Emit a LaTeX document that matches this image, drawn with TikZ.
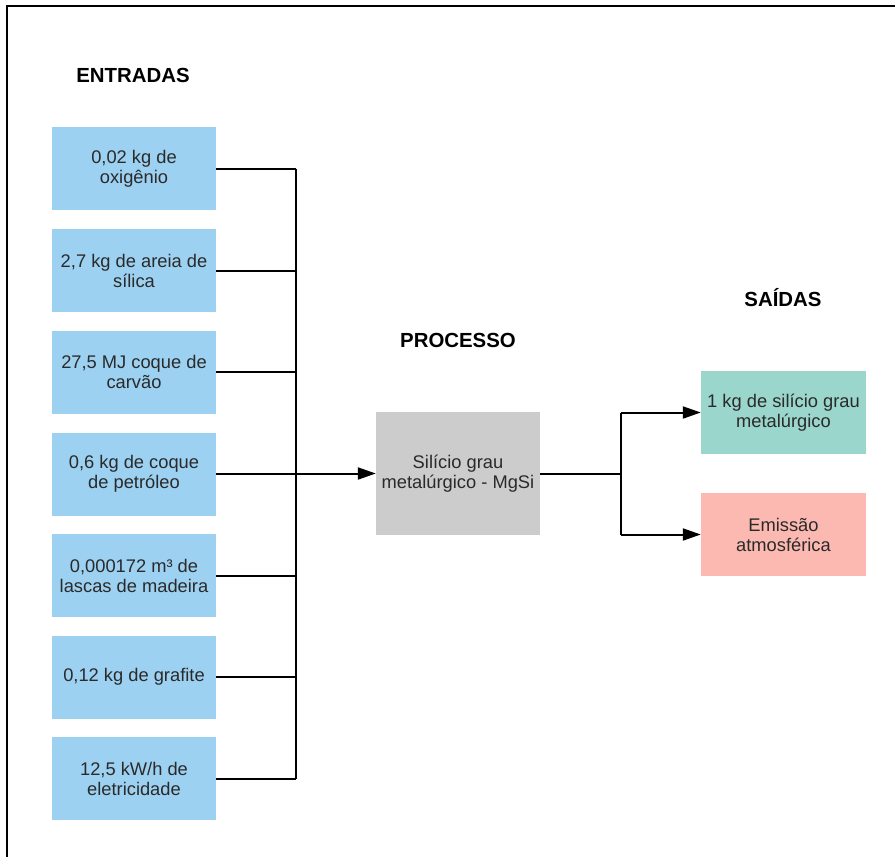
\documentclass[tikz,border=0pt]{standalone}
\usepackage{fontspec}
\setmainfont{Liberation Sans}
\usetikzlibrary{arrows.meta}
\definecolor{inblue}{HTML}{9DD1F1}
\definecolor{procgrey}{HTML}{CCCCCC}
\definecolor{outgreen}{HTML}{9AD6CB}
\definecolor{outred}{HTML}{FBB9B2}
\definecolor{txt}{HTML}{2A2A2A}
\begin{document}
\begin{tikzpicture}[x=1pt,y=-1pt]
\tikzstyle{inbox}=[fill=inblue,text=txt,minimum width=164pt,minimum height=83pt,inner sep=1pt,align=center,font=\fontsize{18.3}{20}\selectfont]
\tikzstyle{procbox}=[fill=procgrey,text=txt,minimum width=164pt,minimum height=123pt,inner sep=1pt,align=center,font=\fontsize{18.3}{20}\selectfont]
\tikzstyle{outbox}=[text=txt,minimum width=165pt,minimum height=83pt,inner sep=1pt,align=center,font=\fontsize{18.3}{20}\selectfont]
\tikzstyle{heading}=[font=\fontsize{20.4}{22}\selectfont\bfseries]
\tikzstyle{wire}=[line width=2pt]
\tikzstyle{flow}=[line width=2pt,-{Triangle[length=18pt,width=12pt]}]
\useasboundingbox (0,0) rectangle (895,857);
% frame
\draw[line width=1.6pt] (7,857) -- (7,6) -- (895,6);
% headings
\node[heading] (hin) at (133,75) {ENTRADAS};
\node[heading] (hproc) at (458,340) {PROCESSO};
\node[heading] (hout) at (783,298) {SAÍDAS};
% inputs
\node[inbox] (in1) at (134,168.5) {0,02 kg de\\oxigênio};
\node[inbox] (in2) at (134,270.5) {2,7 kg de areia de\\sílica};
\node[inbox] (in3) at (134,372) {27,5 MJ coque de\\carvão};
\node[inbox] (in4) at (134,474) {0,6 kg de coque\\de petróleo};
\node[inbox] (in5) at (134,575.5) {0,000172 m³ de\\lascas de madeira};
\node[inbox] (in6) at (134,677) {0,12 kg de grafite};
\node[inbox] (in7) at (134,778.5) {12,5 kW/h de\\eletricidade};
% process and outputs
\node[procbox] (proc) at (458,473.5) {Silício grau\\metalúrgico - MgSi};
\node[outbox,fill=outgreen] (out1) at (783.5,412.5) {1 kg de silício grau\\metalúrgico};
\node[outbox,fill=outred] (out2) at (783.5,534.5) {Emissão\\atmosférica};
\coordinate (bus) at (296,473.5);
\coordinate (split) at (621,473.5);
% connectors
\draw[wire] (in1.east) -- (in1.east -| bus);
\draw[wire] (in2.east) -- (in2.east -| bus);
\draw[wire] (in3.east) -- (in3.east -| bus);
\draw[wire] (in4.east) -- (in4.east -| bus);
\draw[wire] (in5.east) -- (in5.east -| bus);
\draw[wire] (in6.east) -- (in6.east -| bus);
\draw[wire] (in7.east) -- (in7.east -| bus);
\draw[wire] (in1.east -| bus) -- (in7.east -| bus);
\draw[flow] (bus) -- (proc);
\draw[wire] (proc) -- (split);
\draw[wire] (split |- out1) -- (split |- out2);
\draw[flow] (split |- out1) -- (out1);
\draw[flow] (split |- out2) -- (out2);
\end{tikzpicture}
\end{document}
